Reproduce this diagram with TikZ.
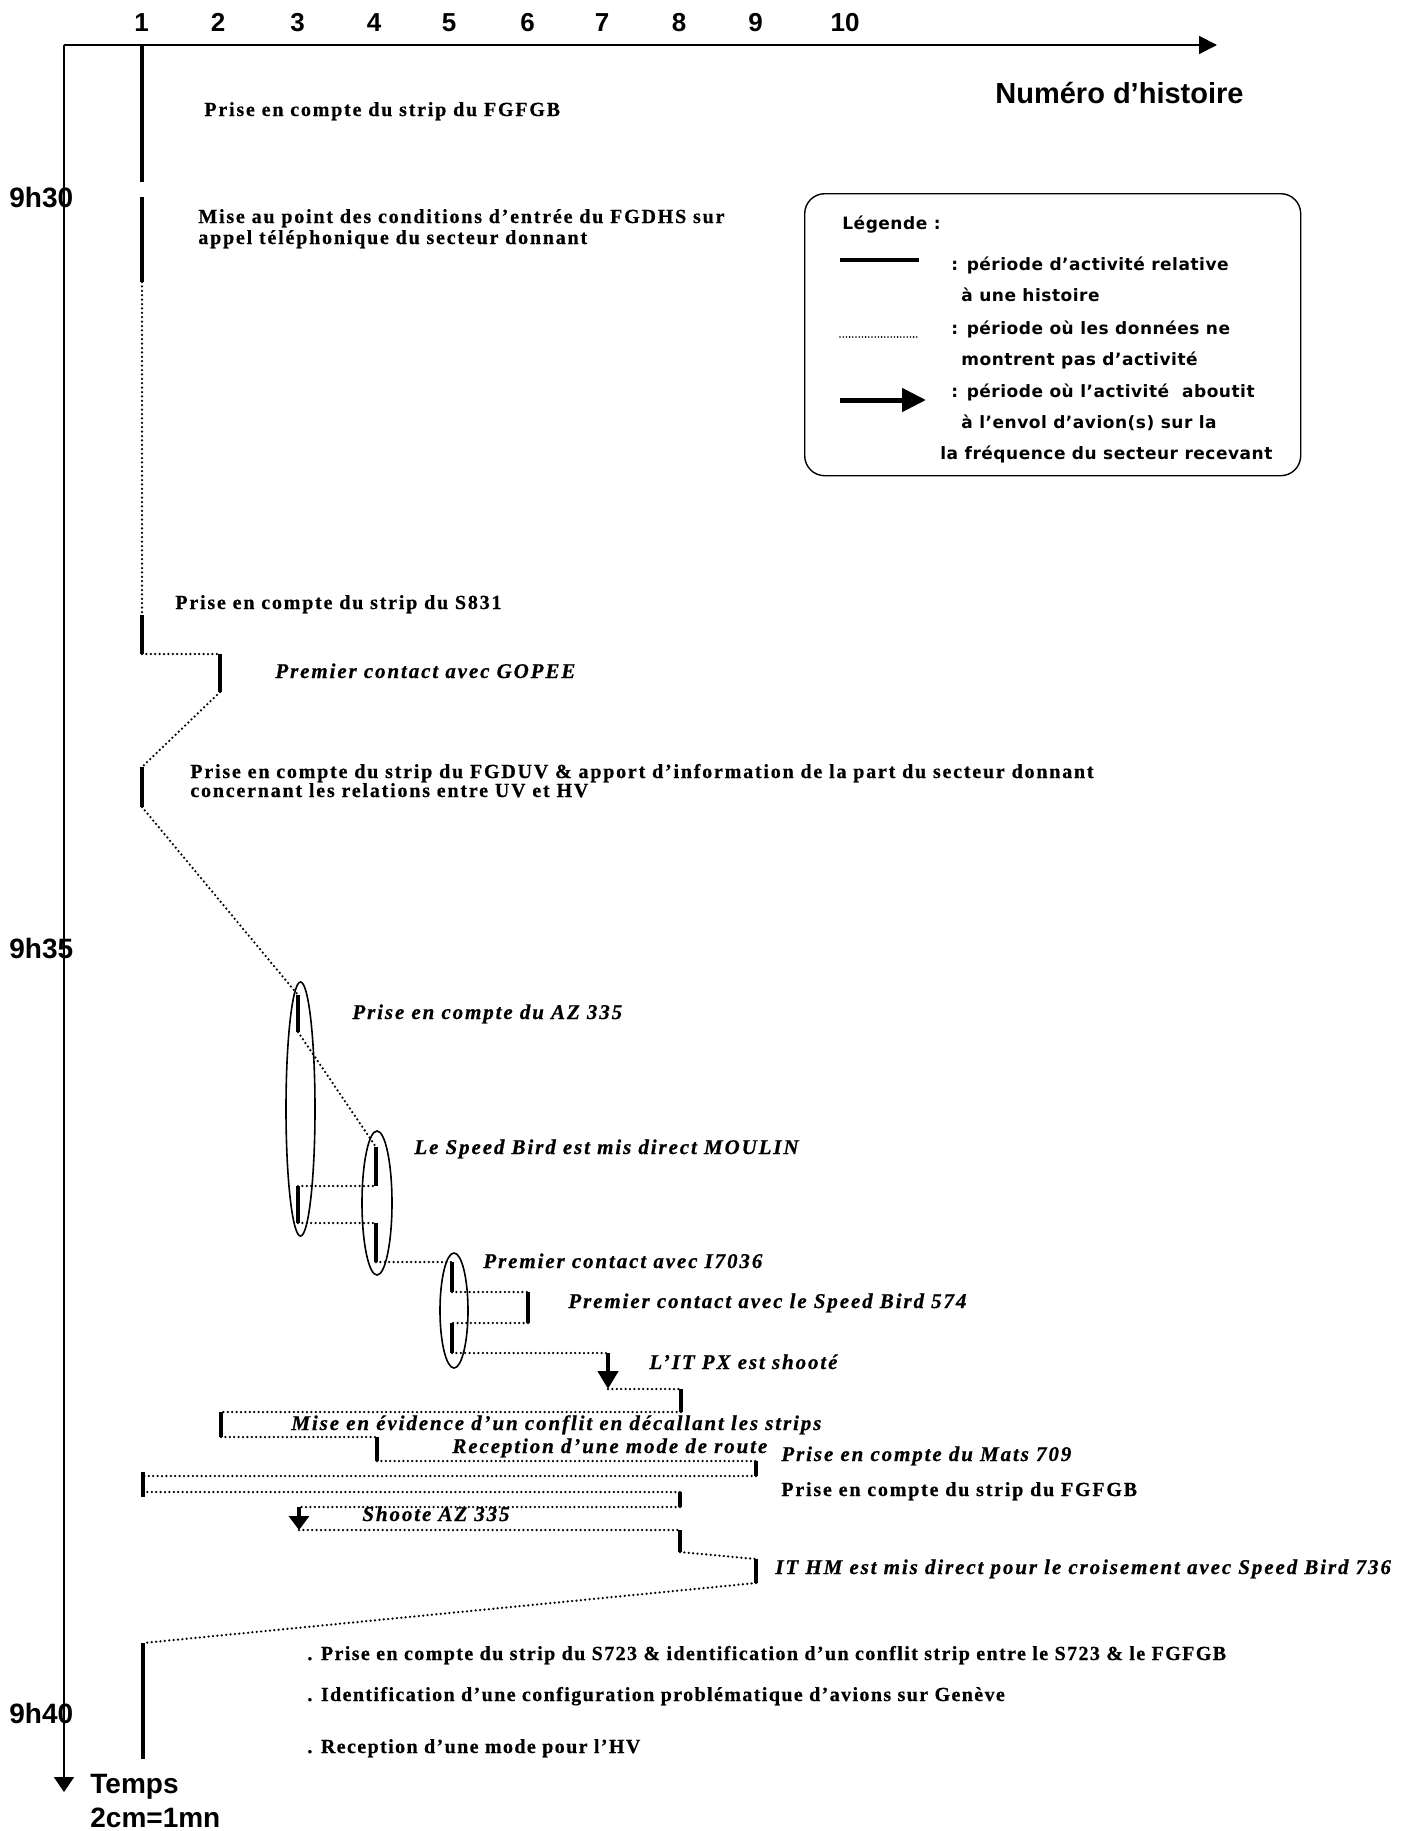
\documentclass[tikz,border=0pt]{standalone}
\usepackage{fontspec}
\setmainfont{Liberation Serif}
\newfontfamily\lblup{Liberation Serif}[LetterSpace=9,FakeBold=0.6]
\newfontfamily\lbldn{Liberation Serif}[LetterSpace=7,FakeBold=0.6]
\newfontfamily\lblit{Liberation Serif}[LetterSpace=9,FakeBold=0.6]
\newfontfamily\legfont{DejaVu Sans}[LetterSpace=3]
\newfontfamily\axfont{Liberation Sans}
\usetikzlibrary{arrows.meta,shapes.geometric}
\begin{document}
\begin{tikzpicture}[x=0.5pt,y=-0.5pt,
  bar/.style={line width=2.4pt},
  dots/.style={line width=1.25pt, line cap=round, dash pattern=on 0pt off 2.2pt},
  lab/.style={anchor=base west, inner sep=0pt, font=\lblup\bfseries\fontsize{10}{12}\selectfont},
  dlab/.style={anchor=base west, inner sep=0pt, font=\lbldn\bfseries\fontsize{10}{12}\selectfont},
  ilab/.style={anchor=base west, inner sep=0pt, font=\lblit\bfseries\itshape\fontsize{10.5}{12}\selectfont},
  leg/.style={anchor=base west, inner sep=0pt, font=\legfont\bfseries\fontsize{8.5}{10}\selectfont},
  num/.style={anchor=base, inner sep=0pt, font=\axfont\bfseries\fontsize{13}{15}\selectfont},
  axt/.style={anchor=base west, inner sep=0pt, font=\axfont\bfseries\fontsize{14}{16}\selectfont},
  axis/.style={line width=0.9pt},
  grp/.style={draw, ellipse, line width=0.8pt, inner sep=0pt},
  bigarrow/.style={line width=2.4pt, -{Triangle[length=9pt,width=10pt]}},
  smallarrow/.style={line width=2.4pt, -{Triangle[length=7pt,width=10pt]}}
]
\useasboundingbox (0,0) rectangle (1414,1831);
\fill[white] (0,0) rectangle (1414,1831);

% ---------- axis labels
\node[num] (n1) at (141.6,32) {1};
\node[num] (n2) at (218,32) {2};
\node[num] (n3) at (297.6,32) {3};
\node[num] (n4) at (374,32) {4};
\node[num] (n5) at (449,32) {5};
\node[num] (n6) at (527.5,32) {6};
\node[num] (n7) at (602,32) {7};
\node[num] (n8) at (679,32) {8};
\node[num] (n9) at (755.6,32) {9};
\node[num] (n10) at (845,32) {10};
\node[axt, font=\axfont\bfseries\fontsize{14.5}{16}\selectfont] (nh) at (995,103) {Numéro d’histoire};
\node[axt] (h30) at (9,207) {9h30};
\node[axt] (h35) at (9,958) {9h35};
\node[axt] (h40) at (9,1723) {9h40};
\node[axt] (temps) at (90,1793) {Temps};
\node[axt] (echelle) at (90,1827) {2cm=1mn};

% ---------- axes
\coordinate (O) at (64,45);
\coordinate (X) at (1217,45);
\coordinate (Y) at (64,1792);
\draw[axis, -{Triangle[length=9pt,width=9pt]}] (O) -- (X);
\draw[axis, -{Triangle[length=7.5pt,width=10pt]}] (O) -- (Y);

% ---------- legend
\node[draw, rounded corners=10pt, line width=0.7pt, inner sep=0pt,
      minimum width=248pt, minimum height=141pt, anchor=north west] (legbox) at (804,193) {};
\node[leg] (lg0) at (842,229) {Légende :};
\coordinate (lga) at (840,260); \coordinate (lgb) at (919,260);
\draw[line width=2pt] (lga) -- (lgb);
\node[leg] (lg1) at (951,270) {: période d’activité relative};
\node[leg] (lg2) at (961,301) {à une histoire};
\coordinate (lgc) at (840,337); \coordinate (lgd) at (917,337);
\draw[dots, line width=0.9pt, dash pattern=on 0pt off 1.6pt] (lgc) -- (lgd);
\node[leg] (lg3) at (951,334) {: période où les données ne};
\node[leg] (lg4) at (961,365) {montrent pas d’activité};
\coordinate (lge) at (840,400); \coordinate (lgf) at (926,400);
\draw[line width=2.5pt, -{Triangle[length=12pt,width=11.5pt]}] (lge) -- (lgf);
\node[leg] (lg5) at (951,397) {: période où l’activité~ aboutit};
\node[leg] (lg6) at (961,428) {à l’envol d’avion(s) sur la};
\node[leg] (lg7) at (940,459) {la fréquence du secteur recevant};

% ---------- bar end points
\coordinate (b1t) at (142,45);   \coordinate (b1b) at (142,182);
\coordinate (b2t) at (142,197);  \coordinate (b2b) at (142,282);
\coordinate (b3t) at (142,615);  \coordinate (b3b) at (142,654);
\coordinate (b4t) at (220,654);  \coordinate (b4b) at (220,692);
\coordinate (b5t) at (142,767);  \coordinate (b5b) at (142,807);
\coordinate (b6t) at (298,995);  \coordinate (b6b) at (298,1032);
\coordinate (b7t) at (376,1147); \coordinate (b7b) at (376,1186);
\coordinate (b8t) at (298,1186); \coordinate (b8b) at (298,1223);
\coordinate (b9t) at (376,1223); \coordinate (b9b) at (376,1262);
\coordinate (b10t) at (452,1262); \coordinate (b10b) at (452,1292);
\coordinate (b11t) at (528,1292); \coordinate (b11b) at (528,1323);
\coordinate (b12t) at (452,1323); \coordinate (b12b) at (452,1353);
\coordinate (a1t) at (608,1353);  \coordinate (a1b) at (608,1389);
\coordinate (b13t) at (681,1389); \coordinate (b13b) at (681,1412);
\coordinate (b14t) at (221,1412); \coordinate (b14b) at (221,1437);
\coordinate (b15t) at (377,1437); \coordinate (b15b) at (377,1461);
\coordinate (b16t) at (756,1461); \coordinate (b16b) at (756,1476);
\coordinate (b17t) at (143,1472); \coordinate (b17b) at (143,1497);
\coordinate (b17u) at (143,1476); \coordinate (b17d) at (143,1492);
\coordinate (b18t) at (680,1492); \coordinate (b18b) at (680,1507);
\coordinate (a2t) at (299,1507);  \coordinate (a2b) at (299,1530);
\coordinate (b19t) at (680,1530); \coordinate (b19b) at (680,1552);
\coordinate (b20t) at (756,1559); \coordinate (b20b) at (756,1583);
\coordinate (b21t) at (143,1643); \coordinate (b21b) at (143,1759);

% ---------- activity bars
\foreach \b in {b1,b2,b3,b4,b5,b6,b7,b8,b9,b10,b11,b12,b13,b14,b15,b16,b17,b18,b19,b20,b21}
  \draw[bar] (\b t) -- (\b b);
\draw[bigarrow] (a1t) -- (a1b);
\draw[smallarrow] (a2t) -- (a2b);

% ---------- idle periods
\draw[dots] (b2b) -- (b3t);
\draw[dots] (b3b) -- (b4t);
\draw[dots] (b4b) -- (b5t);
\draw[dots] (b5b) -- (b6t);
\draw[dots] (b6b) -- (b7t);
\draw[dots] (b8t) -- (b7b);
\draw[dots] (b8b) -- (b9t);
\draw[dots] (b9b) -- (b10t);
\draw[dots] (b10b) -- (b11t);
\draw[dots] (b11b) -- (b12t);
\draw[dots] (b12b) -- (a1t);
\draw[dots] (a1b) -- (b13t);
\draw[dots] (b13b) -- (b14t);
\draw[dots] (b14b) -- (b15t);
\draw[dots] (b15b) -- (b16t);
\draw[dots] (b16b) -- (b17u);
\draw[dots] (b17d) -- (b18t);
\draw[dots] (b18b) -- (a2t);
\draw[dots] (a2b) -- (b19t);
\draw[dots] (b19b) -- (b20t);
\draw[dots] (b20b) -- (b21t);

% ---------- groupings
\node[grp, minimum width=14.5pt, minimum height=127pt] (e1) at (300.5,1109) {};
\node[grp, minimum width=15pt, minimum height=72pt] (e2) at (377,1203) {};
\node[grp, minimum width=14pt, minimum height=57.5pt] (e3) at (454,1310.5) {};

% ---------- labels
\node[lab] (t1) at (204,116) {Prise en compte du strip du FGFGB};
\node[lab] (t2a) at (198,223) {Mise au point des conditions d’entrée du FGDHS sur};
\node[lab] (t2b) at (198,244) {appel téléphonique du secteur donnant};
\node[lab] (t3) at (175,609) {Prise en compte du strip du S831};
\node[ilab] (t4) at (275,678) {Premier contact avec GOPEE};
\node[lab] (t5a) at (190,778) {Prise en compte du strip du FGDUV \& apport d’information de la part du secteur donnant};
\node[lab] (t5b) at (190,797) {concernant les relations entre UV et HV};
\node[ilab] (t6) at (352,1019) {Prise en compte du AZ 335};
\node[ilab] (t7) at (414,1154) {Le Speed Bird est mis direct MOULIN};
\node[ilab] (t8) at (483,1268) {Premier contact avec I7036};
\node[ilab] (t9) at (568,1308) {Premier contact avec le Speed Bird 574};
\node[ilab] (t10) at (649,1369) {L’IT PX est shooté};
\node[ilab] (t11) at (291,1430) {Mise en évidence d’un conflit en décallant les strips};
\node[ilab] (t12) at (452,1453) {Reception d’une mode de route};
\node[ilab] (t13) at (781,1461) {Prise en compte du Mats 709};
\node[lab] (t14) at (781,1496) {Prise en compte du strip du FGFGB};
\node[ilab] (t15) at (362,1521) {Shoote AZ 335};
\node[ilab] (t16) at (775,1574) {IT HM est mis direct pour le croisement avec Speed Bird 736};
\node[dlab] (t17) at (307,1660) {. Prise en compte du strip du S723 \& identification d’un conflit strip entre le S723 \& le FGFGB};
\node[dlab] (t18) at (307,1701) {. Identification d’une configuration problématique d’avions sur Genève};
\node[dlab] (t19) at (307,1753) {. Reception d’une mode pour l’HV};
\end{tikzpicture}
\end{document}
